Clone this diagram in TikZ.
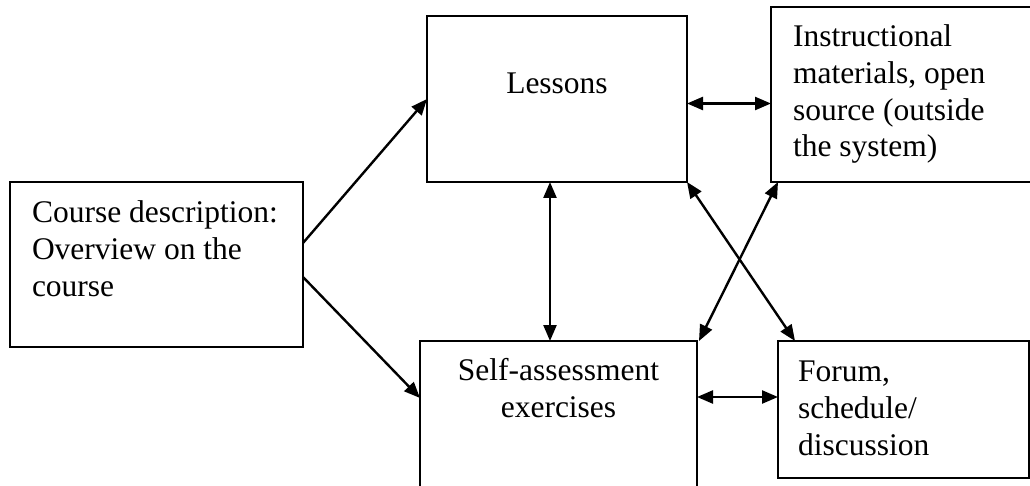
\documentclass[tikz,border=0pt]{standalone}
\usepackage{fontspec}
\setmainfont{Liberation Serif}
\usetikzlibrary{arrows.meta,calc}
\begin{document}
\begin{tikzpicture}[x=1pt,y=-1pt,
  box/.style={draw,line width=2.2pt,rectangle,inner sep=0pt,outer sep=0pt,anchor=north west},
  lbl/.style={inner sep=0pt,outer sep=0pt,font=\fontsize{31.5}{36.8}\selectfont},
  arr/.style={line width=2.4pt,-{Triangle[length=16pt,width=13pt]}},
  biarr/.style={line width=2.4pt,{Triangle[length=16pt,width=13pt]}-{Triangle[length=16pt,width=13pt]}}]
\useasboundingbox (0,0) rectangle (1030,486);
\clip (0,0) rectangle (1030,486);
% boxes
\node[box,minimum width=293pt,minimum height=165pt] (course) at (10,182) {};
\node[box,minimum width=260pt,minimum height=166pt] (lessons) at (427,16) {};
\node[box,minimum width=280pt,minimum height=175pt] (instr) at (771,7) {};
\node[box,minimum width=277pt,minimum height=165pt] (self) at (420,341) {};
\node[box,minimum width=251pt,minimum height=137pt] (forum) at (778,341) {};
% texts (anchor = baseline of the last line)
\node[lbl,anchor=base west,align=left] (tcourse) at (32,296) {Course description:\\Overview on the\\course};
\node[lbl,anchor=base] (tlessons) at (557,94) {Lessons};
\node[lbl,anchor=base west,align=left] (tinstr) at (793,157) {Instructional\\materials, open\\source (outside\\the system)};
\node[lbl,anchor=base,align=center] (tself) at (558.5,417) {Self-assessment\\exercises};
\node[lbl,anchor=base west,align=left] (tforum) at (798,455) {Forum,\\schedule/\\discussion};
% connectors
\coordinate (c1) at ([yshift=21.5pt]course.east);
\coordinate (c2) at ([yshift=-12.5pt]course.east);
\coordinate (sw) at ([yshift=25.5pt]self.west);
\draw[arr] (c1) -- (lessons.west);
\draw[arr] (c2) -- (sw);
\coordinate (le) at ([yshift=-4.5pt]lessons.east);
\draw[biarr] (le) -- (le -| instr.west);
\coordinate (ls) at ([xshift=-7pt]lessons.south);
\draw[biarr] (ls) -- (ls |- self.north);
\coordinate (fn) at ([xshift=17pt]forum.north west);
\draw[biarr] (lessons.south east) -- (fn);
\coordinate (is) at ([xshift=7pt]instr.south west);
\draw[biarr] (is) -- ([xshift=2pt]self.north east);
\coordinate (fw) at ([yshift=12.5pt]forum.west);
\draw[biarr] (fw -| self.east) -- (fw);
\end{tikzpicture}
\end{document}
